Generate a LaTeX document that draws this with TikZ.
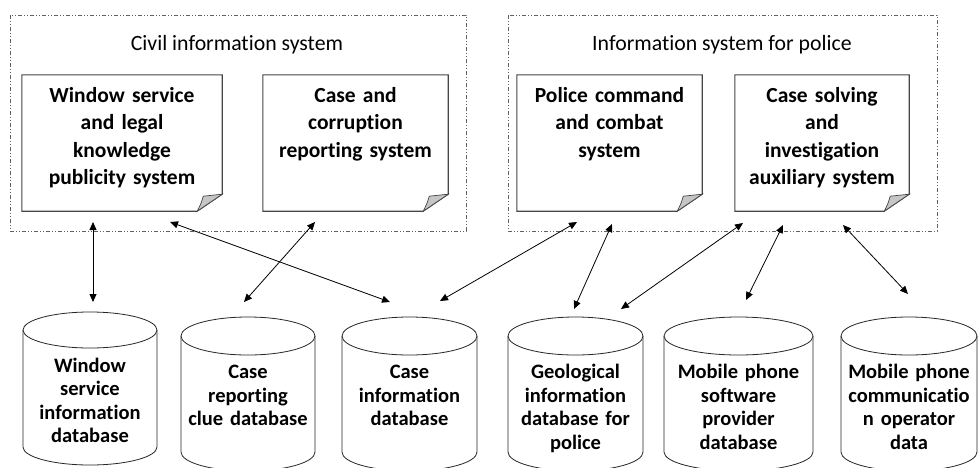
\documentclass[tikz,border=0pt]{standalone}
\usepackage{fontspec}
\setmainfont{Carlito}[Ligatures=CommonOff]
\usetikzlibrary{arrows.meta}
\tikzset{
  grp/.style={draw=gray!75!black, line width=0.7pt, dash pattern=on 4pt off 2pt on 1pt off 2pt on 1pt off 2pt},
  grptitle/.style={font=\fontsize{21.8}{26}\selectfont, inner sep=0pt},
  docbox/.style={draw=none, minimum width=#1, minimum height=136pt, inner sep=0pt},
  docline/.style={draw=gray!55!black, line width=1.1pt, fill=white},
  foldline/.style={draw=gray!55!black, line width=0.7pt, fill=gray!45},
  doctext/.style={align=center, text width=200pt, font=\fontsize{21.5}{27.5}\selectfont\bfseries, anchor=base, inner sep=0pt},
  cylline/.style={draw=black!85, line width=0.8pt, fill=white},
  dbtext/.style={align=center, text width=150pt, font=\fontsize{20.5}{23.5}\selectfont\bfseries, anchor=base, inner sep=0pt},
  link/.style={draw=black, line width=0.8pt, {Triangle[length=8pt,width=7pt]}-{Triangle[length=8pt,width=7pt]}},
}
\newcommand\mydoc[1]{%
  \draw[docline] (#1.north west) -- (#1.north east) -- ([yshift=17pt]#1.south east)
     -- ([xshift=-25pt]#1.south east) -- (#1.south west) -- cycle;
  \draw[foldline] ([xshift=-25pt]#1.south east) -- ([yshift=17pt]#1.south east)
     -- ([xshift=-19pt,yshift=15pt]#1.south east)
     .. controls ([xshift=-21pt,yshift=8pt]#1.south east) .. ([xshift=-25pt]#1.south east) -- cycle;
}
% #1 left, #2 right, #3 top ellipse centre y, #4 bottom ellipse centre y, #5 ry
\newcommand\mycyl[5]{%
  \draw[cylline] (#1,#3) -- (#1,#4) arc[start angle=180, end angle=0, x radius={(#2-#1)/2}, y radius=#5] -- (#2,#3);
  \draw[cylline] ({(#1+#2)/2},#3) ellipse [x radius={(#2-#1)/2}, y radius=#5];
}
\begin{document}
\begin{tikzpicture}[x=1pt,y=-1pt]
\useasboundingbox (0,0) rectangle (978,467);
\fill[white] (0,0) rectangle (978,467);

% groups
\draw[grp] (10,15) rectangle (466,231);
\draw[grp] (508,15) rectangle (937,231);
\node[grptitle] (g1) at (237,45) {Civil information system};
\node[grptitle] (g2) at (722,45) {Information system for police};

% document boxes
\node[docbox=200pt] (w)  at (122,143) {};
\node[docbox=185pt] (cc) at (355.5,143) {};
\node[docbox=185pt] (pc) at (609.5,143) {};
\node[docbox=174pt] (cs) at (822,143) {};
\mydoc{w}\mydoc{cc}\mydoc{pc}\mydoc{cs}
\node[doctext] (wt)  at (122,102) {Window service\\and legal\\knowledge\\publicity system};
\node[doctext] (cct) at (355.5,102) {Case and\\corruption\\reporting system};
\node[doctext] (pct) at (609.5,102) {Police command\\and combat\\system};
\node[doctext] (cst) at (822,102) {Case solving\\and\\investigation\\auxiliary system};

% databases
\mycyl{23}{157}{330}{447}{18}
\mycyl{181}{315}{336}{452}{19}
\mycyl{342}{477}{336}{452}{19}
\mycyl{508}{643}{336}{452}{19}
\mycyl{664}{813}{336}{452}{19}
\mycyl{841}{977}{336}{452}{19}
\node[dbtext] (d1) at (90,372) {Window\\service\\information\\database};
\node[dbtext] (d2) at (248,378.5) {Case\\reporting\\clue database};
\node[dbtext] (d3) at (409.5,378.5) {Case\\information\\database};
\node[dbtext] (d4) at (575.5,378.5) {Geological\\information\\database for\\police};
\node[dbtext] (d5) at (738.5,378.5) {Mobile phone\\software\\provider\\database};
\node[dbtext] (d6) at (909,378.5) {Mobile phone\\communicatio\\n operator\\data};

% connector end points
\coordinate (a1s) at (93,222);  \coordinate (a1e) at (93,302);
\coordinate (a2s) at (170,222); \coordinate (a2e) at (390,302);
\coordinate (a3s) at (315,222); \coordinate (a3e) at (244,302);
\coordinate (a4s) at (577,222); \coordinate (a4e) at (440,301);
\coordinate (a5s) at (612,224); \coordinate (a5e) at (574,309);
\coordinate (a6s) at (743,223); \coordinate (a6e) at (621,309);
\coordinate (a7s) at (783,225); \coordinate (a7e) at (746,300);
\coordinate (a8s) at (843,225); \coordinate (a8e) at (908,294);
\foreach \i in {1,...,8} { \draw[link] (a\i s) -- (a\i e); }
\end{tikzpicture}
\end{document}
